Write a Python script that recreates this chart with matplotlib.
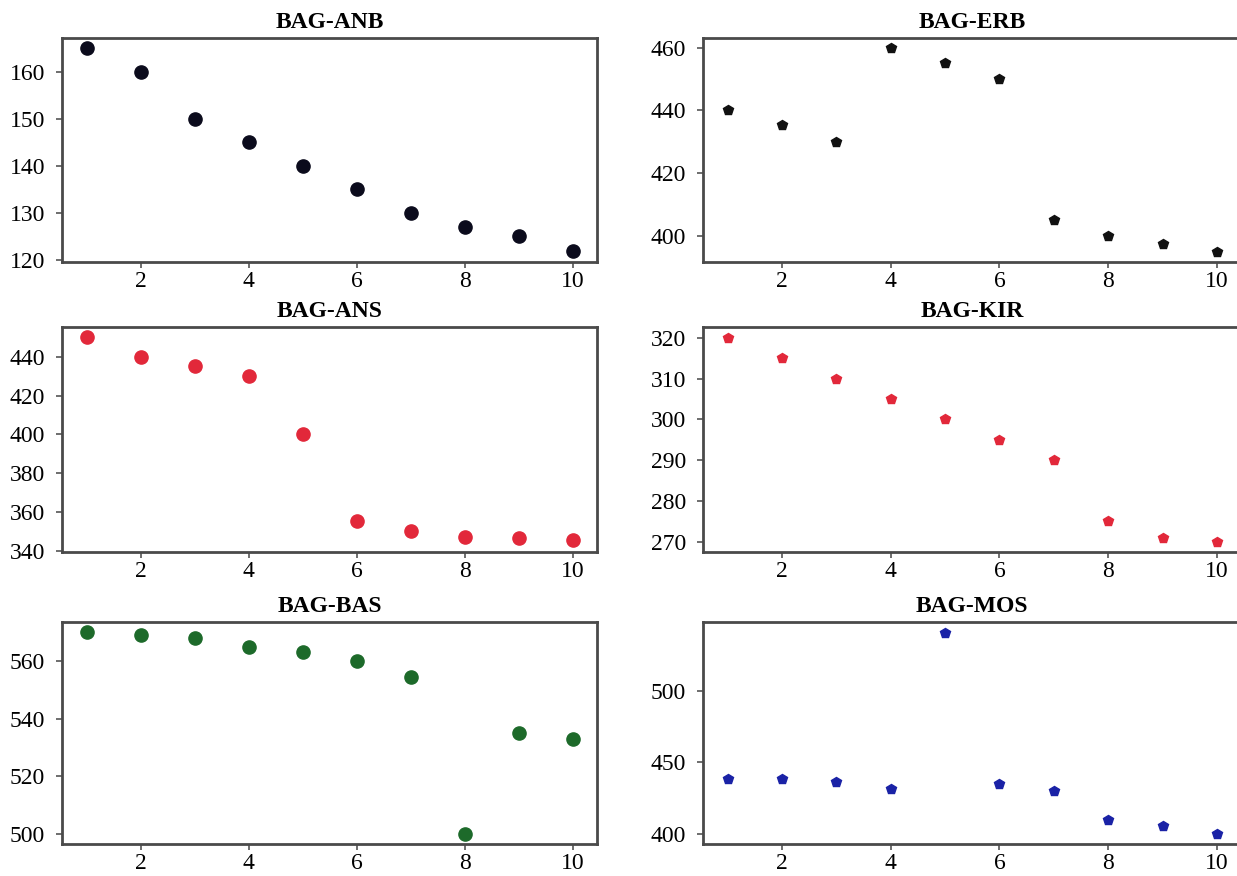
import numpy as np
import matplotlib as mpl
mpl.use('Agg')
import matplotlib.pyplot as plt

plt.rcParams['font.family'] = ['Liberation Serif', 'DejaVu Serif']

x = [1, 2, 3, 4, 5, 6, 7, 8, 9, 10]

anb = [165, 160, 150, 145, 140, 135, 130, 127, 125, 122]
erb = [440, 435.5, 430, 460, 455, 450, 405, 400, 397.5, 395]
ans = [450, 440, 435, 430, 400, 355.5, 350, 347, 346.5, 345.5]
kir = [320, 315, 310, 305, 300, 295, 290, 275, 271, 270]
bas = [570, 569, 568, 565, 563, 560, 554.5, 500, 535, 533]
mos = [438.5, 438.5, 435.8, 431.5, 540.5, 435, 430, 409.6, 405, 400]

# title, data, colour, marker, ylim, yticks, [left, bottom, width, height]
panels = [
    ('BAG-ANB', anb, '#0b0b1c', 'o', (119.6, 167.2), [120, 130, 140, 150, 160], [0.050, 0.701, 0.433, 0.256]),
    ('BAG-ERB', erb, '#111111', 'p', (391.7, 463.2), [400, 420, 440, 460], [0.568, 0.701, 0.436, 0.256]),
    ('BAG-ANS', ans, '#e2283a', 'o', (339.5, 455.4), [340, 360, 380, 400, 420, 440], [0.050, 0.370, 0.433, 0.257]),
    ('BAG-KIR', kir, '#e2283a', 'p', (267.5, 322.7), [270, 280, 290, 300, 310, 320], [0.568, 0.370, 0.436, 0.257]),
    ('BAG-BAS', bas, '#1d6a2a', 'o', (496.6, 573.6), [500, 520, 540, 560], [0.050, 0.037, 0.433, 0.253]),
    ('BAG-MOS', mos, '#1a22a6', 'p', (393.0, 548.0), [400, 450, 500], [0.568, 0.037, 0.436, 0.253]),
]

fig = plt.figure(figsize=(12.37, 8.76), dpi=100)

for title, vals, col, mk, ylim, yt, pos in panels:
    ax = fig.add_axes(pos)
    ms = 9.5 if mk == 'o' else 7.8
    ax.plot(x, vals, linestyle='none', marker=mk, markersize=ms, color=col)
    ax.set_xlim(0.54, 10.46)
    ax.set_ylim(*ylim)
    ax.set_xticks([2, 4, 6, 8, 10])
    ax.set_yticks(yt)
    ax.tick_params(labelsize=17, width=1.2, color='#555555')
    ax.tick_params(axis='x', length=4.5, pad=2)
    ax.tick_params(axis='y', length=4, pad=8)
    for s in ax.spines.values():
        s.set_color('#4a4a4a')
        s.set_linewidth(2)
    ax.set_title(title, fontsize=17, fontweight='bold', pad=7)

plt.savefig('out.png', dpi=100)
